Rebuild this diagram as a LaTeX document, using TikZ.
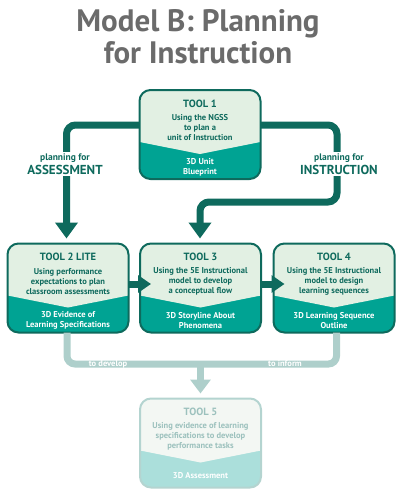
\documentclass[tikz,border=0pt]{standalone}
\usepackage{fontspec}
\setmainfont{PT Sans}
\usetikzlibrary{arrows.meta,calc}
\definecolor{dk}{HTML}{0E6A5D}
\definecolor{lt}{HTML}{E2F0E3}
\definecolor{tl}{HTML}{00A393}
\definecolor{fborder}{HTML}{B4D4D0}
\definecolor{ftop}{HTML}{F3F7F3}
\definecolor{fbot}{HTML}{ABDFDB}
\definecolor{ftext}{HTML}{9CC1BD}
\definecolor{conn}{HTML}{AECFCB}
\definecolor{ttl}{HTML}{6B6B6B}
\tikzset{
  boxshape/.style={rectangle, minimum width=121pt, minimum height=89pt, rounded corners=11pt, inner sep=0pt, outer sep=0pt},
  tooltitle/.style={font=\fontsize{10.5}{13}\selectfont\bfseries, inner sep=0pt},
  tooldesc/.style={font=\fontsize{8.5}{10}\selectfont\bfseries, align=center, inner sep=0pt},
  toolout/.style={font=\fontsize{8.5}{10}\selectfont\bfseries, align=center, inner sep=0pt, text=white},
  bigarrow/.style={draw=dk, line width=7pt, rounded corners=9pt, -{Triangle[width=22pt,length=16pt]}},
  smallarrow/.style={draw=dk, line width=7pt, -{Triangle[width=17pt,length=13pt]}},
  lightline/.style={draw=conn, line width=7pt, rounded corners=8pt},
  lightarrow/.style={draw=conn, line width=7pt, -{Triangle[width=20pt,length=14pt]}},
  plabel/.style={fill=white, align=center, text=dk, inner sep=2pt, font=\fontsize{9.5}{14}\selectfont\bfseries},
  onlabel/.style={text=white, inner sep=0pt, font=\fontsize{8.5}{9}\selectfont\bfseries}
}
\newcommand\mkbox[5]{%
  \node[boxshape, fill=#5] (#1) at (#2) {};
  \begin{scope}
    \clip[rounded corners=11pt] (#1.north west) rectangle (#1.south east);
    \fill[#4] (#1.north west) -- (#1.north east) -- ([yshift=-52pt]#1.north east) -- ([yshift=-64pt]#1.north) -- ([yshift=-52pt]#1.north west) -- cycle;
  \end{scope}
  \draw[#3, line width=2pt, rounded corners=11pt] (#1.north west) rectangle (#1.south east);
}
\newcommand\mktext[5]{%
  \node[tooltitle, text=#5] (#1-title) at ([yshift=-13.5pt]#1.north) {#2};
  \node[tooldesc, text=#5] (#1-desc) at ([yshift=-38pt]#1.north) {#3};
  \node[toolout] (#1-out) at ([yshift=-77pt]#1.north) {#4};
}
\begin{document}
\begin{tikzpicture}[x=1pt,y=-1pt]
\useasboundingbox (0,0) rectangle (400,501);
% title
\node[font=\fontsize{31}{32}\selectfont\bfseries, text=ttl, align=center, inner sep=0pt] (title) at (198,37) {Model B: Planning\\for Instruction};
% boxes
\mkbox{t1}{200,134.5}{dk}{lt}{tl}
\mkbox{t2}{68,288}{dk}{lt}{tl}
\mkbox{t3}{200.5,288}{dk}{lt}{tl}
\mkbox{t4}{334,288}{dk}{lt}{tl}
\mkbox{t5}{200.5,443}{fborder}{ftop}{fbot}
\mktext{t1}{TOOL 1}{Using the NGSS\\to plan a\\unit of Instruction}{3D Unit\\Blueprint}{dk}
\mktext{t2}{TOOL 2 LITE}{Using performance\\expectations to plan\\classroom assessments}{3D Evidence of\\Learning Specifications}{dk}
\mktext{t3}{TOOL 3}{Using the 5E Instructional\\model to develop\\a conceptual flow}{3D Storyline About\\Phenomena}{dk}
\mktext{t4}{TOOL 4}{Using the 5E Instructional\\model to design\\learning sequences}{3D Learning Sequence\\Outline}{dk}
\mktext{t5}{TOOL 5}{Using evidence of learning\\specifications to develop\\performance tasks}{3D Assessment}{ftext}
% top arrows
\coordinate (rturn) at (337,202);
\draw[bigarrow] ([yshift=9.5pt]t1.west) -| ([xshift=-1.5pt,yshift=5pt]t2.north);
\draw[bigarrow] ([yshift=9.5pt]t1.east) -| (rturn) -| ([xshift=-0.5pt,yshift=5pt]t3.north);
\node[plabel] (lblA) at (65,164) {planning for\\{\fontsize{13}{14}\selectfont ASSESSMENT}};
\node[plabel] (lblI) at (339,164) {planning for\\{\fontsize{13}{14}\selectfont INSTRUCTION}};
% horizontal arrows
\draw[smallarrow] ([yshift=4pt]t2.east) -- ([xshift=11pt,yshift=4pt]t3.west);
\draw[smallarrow] ([yshift=4pt]t3.east) -- ([xshift=11pt,yshift=4pt]t4.west);
% bottom connector
\coordinate (mid) at (200.5,364);
\draw[lightline] ([xshift=-1pt]t2.south) |- (mid) -| ([xshift=2.5pt]t4.south);
\draw[lightarrow] (mid) -- ([yshift=5pt]t5.north);
\node[onlabel] (dev) at (108,364) {to develop};
\node[onlabel] (inf) at (285,364) {to inform};
\end{tikzpicture}
\end{document}
